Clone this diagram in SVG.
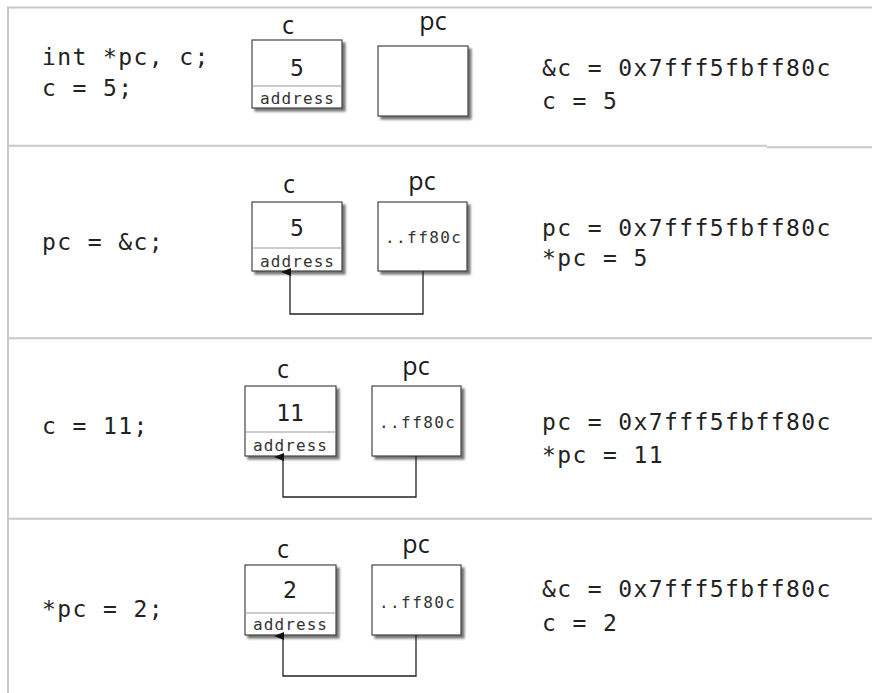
<svg xmlns="http://www.w3.org/2000/svg" width="872" height="693" viewBox="0 0 872 693">
<defs>
<filter id="sh" x="-10%" y="-10%" width="130%" height="130%">
<feDropShadow dx="3" dy="3" stdDeviation="1.2" flood-color="#555" flood-opacity="0.8"/>
</filter>
<marker id="arr" markerWidth="8" markerHeight="10" refX="4" refY="9" orient="auto" markerUnits="userSpaceOnUse" viewBox="0 0 8 10">
<path d="M0,10 L4,0 L8,10 Z" fill="#111"/>
</marker>
<style>
.frame{stroke:#c8c8c8;stroke-width:2;fill:none}
.code{font-family:"DejaVu Sans Mono",monospace;font-size:23px;letter-spacing:1.4px;fill:#222}
.val{font-family:"DejaVu Sans Mono",monospace;font-size:23px;fill:#222;text-anchor:middle}
.small{font-family:"DejaVu Sans Mono",monospace;font-size:16px;fill:#333;text-anchor:middle}
.lbl{font-family:"Open Sans",sans-serif;font-size:25px;fill:#1a1a1a;text-anchor:middle}
.box{fill:#fff;stroke:#444;stroke-width:1.2;filter:url(#sh)}
.div{stroke:#999;stroke-width:1}
.conn{fill:none;stroke:#222;stroke-width:1.3;marker-end:url(#arr)}
</style>
</defs>
<rect width="872" height="693" fill="#fff"/>
<g id="frame">
<path class="frame" d="M8,693 V7.5 H872"/>
<path class="frame" d="M8,145.7 H767 M767,147.2 H872"/>
<path class="frame" d="M8,338.3 H872"/>
<path class="frame" d="M8,518.7 H872"/>
</g>

<!-- Row 1 -->
<g id="row1-code">
<text class="code" x="42" y="65">int *pc, c;</text>
<text class="code" x="42" y="96">c = 5;</text>
</g>
<g id="row1-c">
<text class="lbl" x="288" y="34">c</text>
<rect class="box" x="252" y="40" width="90" height="68"/>
<line class="div" x1="252" y1="86" x2="342" y2="86"/>
<text class="val" x="297" y="76">5</text>
<text class="small" x="297" y="104" textLength="74" lengthAdjust="spacing">address</text>
</g>
<g id="row1-pc">
<text class="lbl" x="433" y="30">pc</text>
<rect class="box" x="378" y="46" width="90" height="70"/>
</g>
<g id="row1-out">
<text class="code" x="542" y="76">&amp;c = 0x7fff5fbff80c</text>
<text class="code" x="542" y="109">c = 5</text>
</g>

<!-- Row 2 -->
<g id="row2-code">
<text class="code" x="42" y="250">pc = &amp;c;</text>
</g>
<g id="row2-c">
<text class="lbl" x="289" y="193">c</text>
<rect class="box" x="252" y="202" width="90" height="69"/>
<line class="div" x1="252" y1="248" x2="342" y2="248"/>
<text class="val" x="297" y="236">5</text>
<text class="small" x="297" y="267" textLength="74" lengthAdjust="spacing">address</text>
</g>
<g id="row2-pc">
<text class="lbl" x="422" y="190">pc</text>
<rect class="box" x="378" y="202" width="89" height="69"/>
<text class="small" x="423" y="243" textLength="76" lengthAdjust="spacing">..ff80c</text>
</g>
<g id="row2-out">
<text class="code" x="542" y="236">pc = 0x7fff5fbff80c</text>
<text class="code" x="542" y="266">*pc = 5</text>
</g>

<!-- Row 3 -->
<g id="row3-code">
<text class="code" x="42" y="434">c = 11;</text>
</g>
<g id="row3-c">
<text class="lbl" x="283" y="378">c</text>
<rect class="box" x="245" y="386" width="91" height="70"/>
<line class="div" x1="245" y1="432" x2="336" y2="432"/>
<text class="val" x="290" y="421">11</text>
<text class="small" x="290" y="451" textLength="74" lengthAdjust="spacing">address</text>
</g>
<g id="row3-pc">
<text class="lbl" x="416" y="375">pc</text>
<rect class="box" x="372" y="386" width="89" height="70"/>
<text class="small" x="417" y="428" textLength="76" lengthAdjust="spacing">..ff80c</text>
</g>
<g id="row3-out">
<text class="code" x="542" y="430">pc = 0x7fff5fbff80c</text>
<text class="code" x="542" y="463">*pc = 11</text>
</g>

<!-- Row 4 -->
<g id="row4-code">
<text class="code" x="42" y="617">*pc = 2;</text>
</g>
<g id="row4-c">
<text class="lbl" x="283" y="558">c</text>
<rect class="box" x="245" y="565" width="91" height="70"/>
<line class="div" x1="245" y1="613" x2="336" y2="613"/>
<text class="val" x="290" y="598">2</text>
<text class="small" x="290" y="630" textLength="74" lengthAdjust="spacing">address</text>
</g>
<g id="row4-pc">
<text class="lbl" x="416" y="553">pc</text>
<rect class="box" x="372" y="565" width="89" height="70"/>
<text class="small" x="417" y="608" textLength="76" lengthAdjust="spacing">..ff80c</text>
</g>
<g id="row4-out">
<text class="code" x="542" y="597">&amp;c = 0x7fff5fbff80c</text>
<text class="code" x="542" y="631">c = 2</text>
</g>

<g id="connectors">
<path class="conn" d="M423,271 V314 H290 V272"/>
<path class="conn" d="M416,456 V497 H283 V457"/>
<path class="conn" d="M416,635 V676 H283 V636"/>
</g>
</svg>
